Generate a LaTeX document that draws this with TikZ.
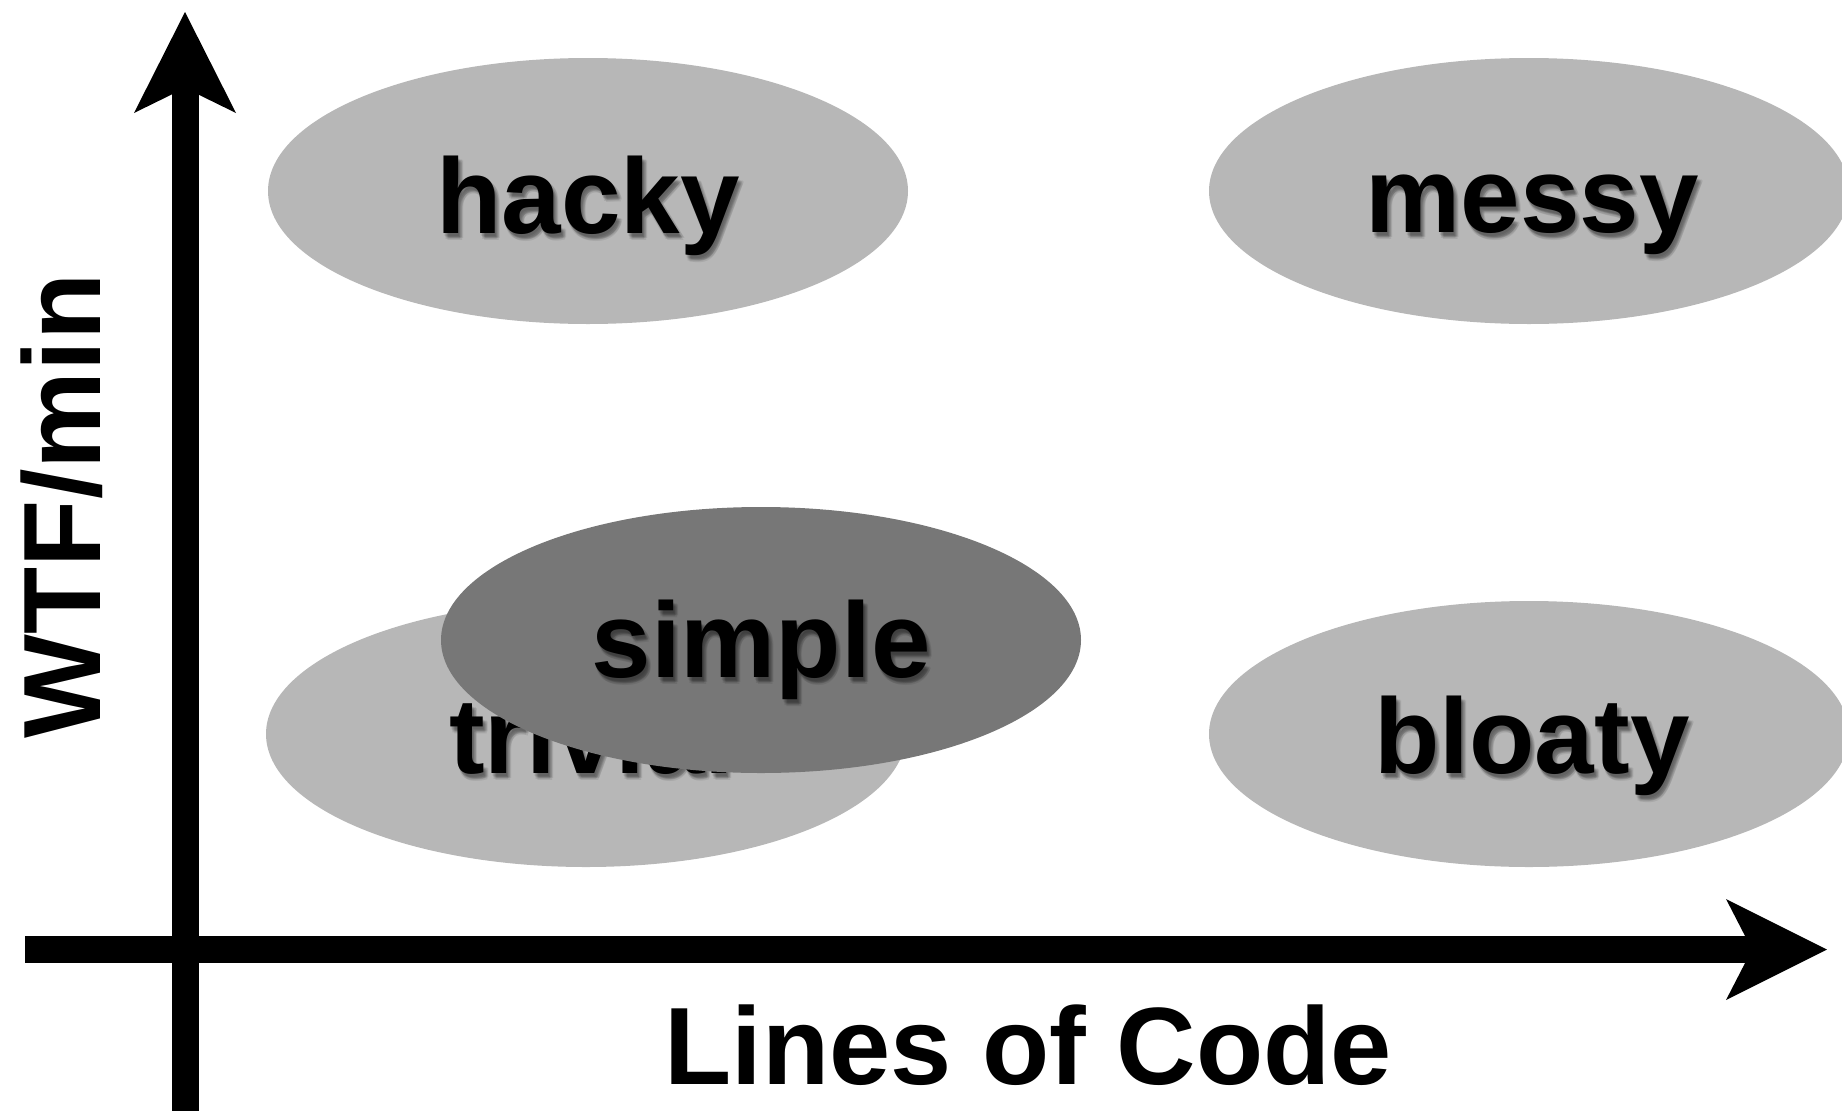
\documentclass[tikz,border=0pt]{standalone}
\usepackage{fontspec}
\setmainfont{Liberation Sans}
\usetikzlibrary{shapes.geometric,calc}
\definecolor{blobgray}{HTML}{B7B7B7}
\definecolor{blobdark}{HTML}{777777}
\tikzset{
  blob/.style={ellipse, minimum width=640pt, minimum height=266pt, inner sep=0pt, draw=none, fill=blobgray},
  darkblob/.style={blob, fill=blobdark},
  lbl/.style={font=\fontsize{107}{120}\selectfont\bfseries, anchor=base, inner sep=0pt, text=black},
  shade/.style={lbl, opacity=0.08},
  axislbl/.style={font=\fontsize{110}{120}\selectfont\bfseries, anchor=base, inner sep=0pt},
  axisline/.style={line width=27pt, draw=black, line cap=butt},
}
\newcommand\shlabel[3]{%
  \foreach \dx/\dy in {1/3,2/4,3/5,4/4,2/6,4/7,5/5}{%
    \node[shade] at ([shift={(\dx,\dy)}]#2) {#3};}
  \node[lbl] (#1) at (#2) {#3};}
\begin{document}
\begin{tikzpicture}[x=1pt,y=-1pt]
\useasboundingbox (0,0) rectangle (1842,1111);
\clip (0,0) rectangle (1842,1111);
% ellipses and labels
\node[blob] (ehacky) at (588,191) {};
\node[blob] (emessy) at (1529,191) {};
\node[blob] (etrivial) at (586,734) {};
\node[blob] (ebloaty) at (1529,734) {};
\shlabel{hacky}{$(588,233)$}{hacky}
\shlabel{messy}{$(1532,232)$}{messy}
\shlabel{trivial}{$(592,773)$}{trivial}
\shlabel{bloaty}{$(1532,773)$}{bloaty}
\node[darkblob] (esimple) at (761,640) {};
\shlabel{simple}{$(761,677)$}{simple}
% axes
\coordinate (ybot) at (185,1111);
\coordinate (ytip) at (185,12);
\coordinate (xleft) at (25,949.5);
\coordinate (xtip) at (1827,949.5);
\draw[axisline] (ybot) -- ($(ytip)+(0,55)$);
\fill (ytip) -- ++(51,101) -- ++(-51,-25) -- ++(-51,25) -- cycle;
\draw[axisline] (xleft) -- ($(xtip)+(-55,0)$);
\fill (xtip) -- ++(-101,-50.5) -- ++(26,50.5) -- ++(-26,50.5) -- cycle;
% axis labels
\node[axislbl, rotate=90] (ylab) at (100,506) {WTF/min};
\node[axislbl] (xlab) at (1028,1084) {Lines of Code};
\end{tikzpicture}
\end{document}
